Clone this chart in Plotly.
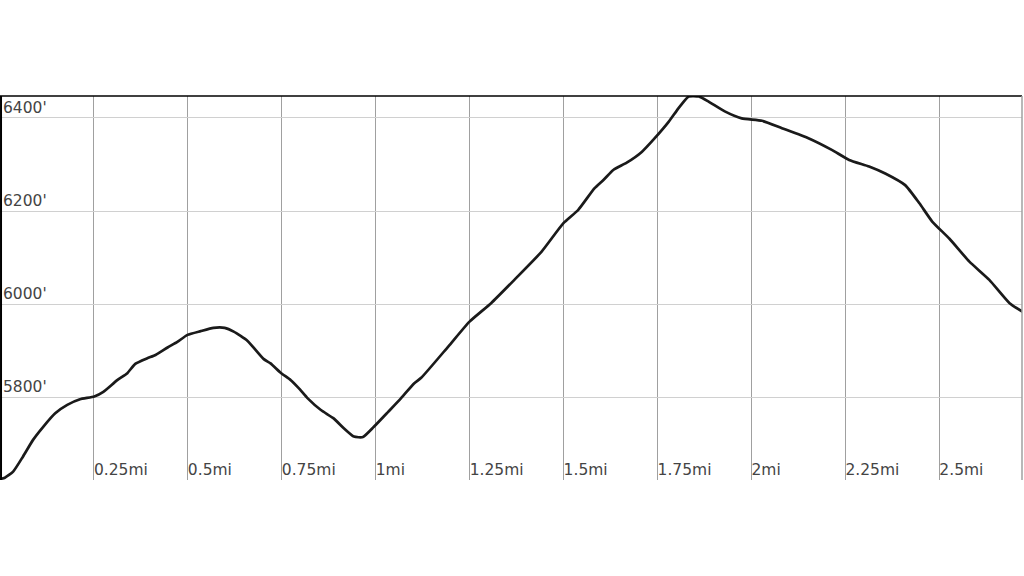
import plotly.graph_objects as go

# distance along trail (miles) and elevation (feet)
distance_mi = [
    0.000, 0.013, 0.035, 0.061, 0.088, 0.115, 0.147, 0.179, 0.213, 0.251,
    0.275, 0.312, 0.339, 0.360, 0.392, 0.414, 0.446, 0.472, 0.499, 0.534,
    0.568, 0.598, 0.622, 0.659, 0.702, 0.720, 0.747, 0.774, 0.795, 0.819,
    0.854, 0.888, 0.915, 0.942, 0.966, 0.995, 1.033, 1.067, 1.102, 1.121,
    1.193, 1.249, 1.307, 1.369, 1.441, 1.499, 1.539, 1.582, 1.606, 1.633,
    1.668, 1.708, 1.742, 1.780, 1.806, 1.833, 1.860, 1.886, 1.929, 1.974,
    2.028, 2.081, 2.153, 2.215, 2.260, 2.313, 2.356, 2.409, 2.447, 2.481,
    2.527, 2.580, 2.633, 2.687, 2.729,
]
elevation_ft = [
    5626, 5629, 5642, 5674, 5710, 5738, 5767, 5785, 5797, 5803,
    5813, 5838, 5853, 5873, 5885, 5892, 5908, 5920, 5935, 5943,
    5950, 5950, 5942, 5922, 5883, 5874, 5854, 5838, 5821, 5799,
    5774, 5756, 5735, 5717, 5716, 5738, 5770, 5799, 5831, 5843,
    5910, 5963, 6003, 6053, 6113, 6174, 6203, 6249, 6267, 6289,
    6304, 6327, 6356, 6392, 6421, 6446, 6446, 6435, 6414, 6399,
    6394, 6378, 6356, 6331, 6310, 6296, 6281, 6256, 6217, 6178,
    6141, 6092, 6053, 6003, 5981,
]

x_ticks = [0.25, 0.5, 0.75, 1, 1.25, 1.5, 1.75, 2, 2.25, 2.5]
x_labels = ["0.25mi", "0.5mi", "0.75mi", "1mi", "1.25mi", "1.5mi",
            "1.75mi", "2mi", "2.25mi", "2.5mi"]
y_ticks = [5800, 6000, 6200, 6400]
y_labels = ["5800'", "6000'", "6200'", "6400'"]

fig = go.Figure()
fig.add_trace(go.Scatter(
    x=distance_mi, y=elevation_ft, mode="lines",
    line=dict(color="#1a1a1a", width=2.7, shape="spline", smoothing=0.5),
    hoverinfo="skip",
))

fig.update_layout(
    width=1024, height=576,
    margin=dict(l=0, r=2, t=96, b=96),
    plot_bgcolor="white", paper_bgcolor="white",
    showlegend=False,
    font=dict(family="DejaVu Sans", size=15.5, color="#333333"),
)
fig.update_xaxes(
    range=[0, 2.72], tickvals=x_ticks, ticktext=x_labels,
    ticklabelposition="inside right", ticklabelstandoff=-4, ticks="",
    showgrid=True, gridcolor="#a0a0a0", gridwidth=1.3,
    zeroline=False, showline=False, fixedrange=True,
)
fig.update_yaxes(
    range=[5624, 6447], tickvals=y_ticks, ticktext=y_labels,
    ticklabelposition="inside top", ticks="",
    showgrid=True, gridcolor="#d0d0d0", gridwidth=1.3,
    zeroline=False, showline=False, fixedrange=True,
)
# borders: left and top black, right edge grey
fig.add_shape(type="line", xref="paper", yref="paper", x0=0, x1=1, y0=1, y1=1,
              line=dict(color="black", width=1.5))
fig.add_shape(type="line", xref="paper", yref="paper", x0=0.001, x1=0.001, y0=0, y1=1,
              line=dict(color="black", width=2))
fig.add_shape(type="line", xref="paper", yref="paper", x0=1, x1=1, y0=0, y1=1,
              line=dict(color="#a0a0a0", width=1.5))

fig.write_html("out.html", config={"displayModeBar": False},
               post_script="document.body.style.margin='0';")
